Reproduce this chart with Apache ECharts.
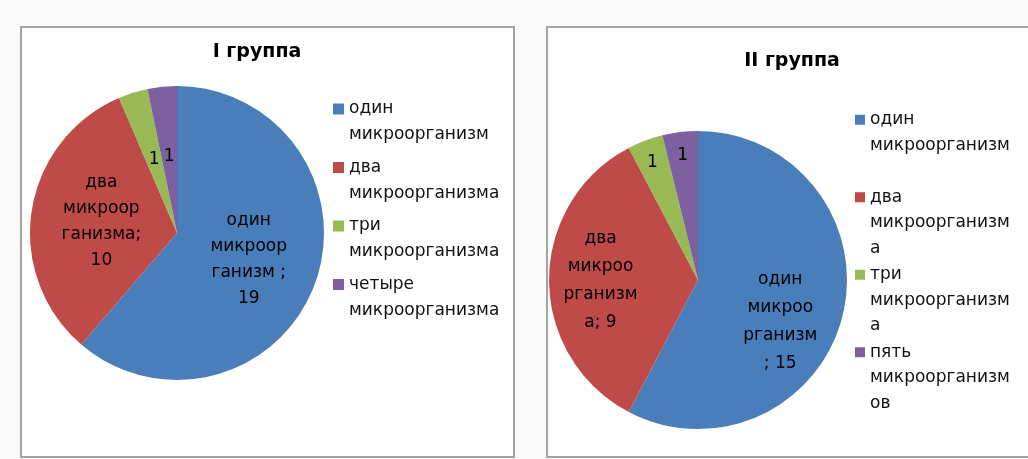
<!DOCTYPE html>
<html>
<head>
<meta charset="utf-8">
<script src="https://cdn.jsdelivr.net/npm/echarts@6/dist/echarts.min.js"></script>
<style>
  html, body { margin: 0; padding: 0; background: #fbfafa; }
  #main { width: 1028px; height: 459px; }
</style>
</head>
<body>
<div id="main"></div>
<script>
// I группа
const leftNames = ['один микроорганизм', 'два микроорганизма', 'три микроорганизма', 'четыре микроорганизма'];
const leftValues = [19, 10, 1, 1];
const leftLabelText = ['один\nмикроор\nганизм ;\n{c}', 'два\nмикроор\nганизма;\n{c}', '{c}', '{c}'];

// II группа
const rightNames = ['один микроорганизм', 'два микроорганизма', 'три микроорганизма', 'пять микроорганизмов'];
const rightValues = [15, 9, 1, 1];
const rightLabelText = ['один\nмикроо\nрганизм\n; {c}', 'два\nмикроо\nрганизм\nа; {c}', '{c}', '{c}'];

const colors = ['#4a7ebb', '#be4b48', '#98b954', '#7d60a0'];
const font = 'DejaVu Sans';

// excel put the labels of the right pie a bit off the middle of the slice
const rightLabelShift = [[7, 23], [-20, 1], [-18, -45], [-6, -47]];

const myChart = echarts.init(document.getElementById('main'));

// colour goes by position, not by name (names differ between the two pies)
function toData(names, values, texts) {
    return names.map((n, i) => ({
        name: n,
        value: values[i],
        itemStyle: { color: colors[i] },
        label: { formatter: texts[i] }
    }));
}

// right legend wraps the long word at 13 chars and always takes 3 lines
function wrapRight(name) {
    const sp = name.indexOf(' ');
    const rest = name.slice(sp + 1);
    const lines = [name.slice(0, sp)];
    for (let i = 0; i < rest.length; i += 13) lines.push(rest.slice(i, i + 13));
    while (lines.length < 3) lines.push(' ');
    return lines.join('\n');
}

const pieBase = {
    type: 'pie',
    startAngle: 90,
    clockwise: true,
    animation: false,
    itemStyle: { borderWidth: 0 },
    labelLine: { show: false },
    emphasis: { disabled: true }
};

const option = {
    backgroundColor: '#fbfafa',
    graphic: [
        {
            type: 'rect',
            shape: { x: 21, y: 27, width: 493, height: 430 },
            style: { fill: '#fff', stroke: '#a3a3a3', lineWidth: 2 }
        },
        {
            type: 'rect',
            shape: { x: 547, y: 27, width: 500, height: 430 },
            style: { fill: '#fff', stroke: '#a3a3a3', lineWidth: 2 }
        }
    ],
    title: [
        {
            text: 'I группа',
            left: 257,
            top: 43,
            textAlign: 'center',
            padding: 0,
            textStyle: { fontFamily: font, fontSize: 19, fontWeight: 'bold', color: '#000' }
        },
        {
            text: 'II группа',
            left: 792,
            top: 52,
            textAlign: 'center',
            padding: 0,
            textStyle: { fontFamily: font, fontSize: 19, fontWeight: 'bold', color: '#000' }
        }
    ],
    legend: [
        {
            orient: 'vertical',
            left: 328,
            top: 91,
            data: leftNames,
            selectedMode: false,
            itemWidth: 11,
            itemHeight: 37,
            itemGap: 6.5,
            icon: 'path://M0 0H11V11H0Z M0 37',
            formatter: (name) => name.replace(' ', '\n'),
            textStyle: { fontFamily: font, fontSize: 17, lineHeight: 26, color: '#111' }
        },
        {
            orient: 'vertical',
            left: 850,
            top: 102,
            data: rightNames,
            selectedMode: false,
            itemWidth: 10,
            itemHeight: 61,
            itemGap: 1,
            icon: 'path://M0 0H10V10H0Z M0 61',
            formatter: wrapRight,
            textStyle: { fontFamily: font, fontSize: 17, lineHeight: 25.5, color: '#111' }
        }
    ],
    series: [
        Object.assign({}, pieBase, {
            name: 'I группа',
            center: [177, 233],
            radius: 147,
            label: {
                show: true,
                position: 'inside',
                color: '#000',
                fontFamily: font,
                fontSize: 17,
                lineHeight: 26
            },
            data: toData(leftNames, leftValues, leftLabelText)
        }),
        Object.assign({}, pieBase, {
            name: 'II группа',
            center: [698, 280],
            radius: 149,
            label: {
                show: true,
                position: 'inside',
                color: '#000',
                fontFamily: font,
                fontSize: 17,
                lineHeight: 28
            },
            labelLayout: (params) => {
                const s = rightLabelShift[params.dataIndex];
                return { dx: s[0], dy: s[1] };
            },
            data: toData(rightNames, rightValues, rightLabelText)
        })
    ]
};

myChart.setOption(option);
</script>
</body>
</html>
